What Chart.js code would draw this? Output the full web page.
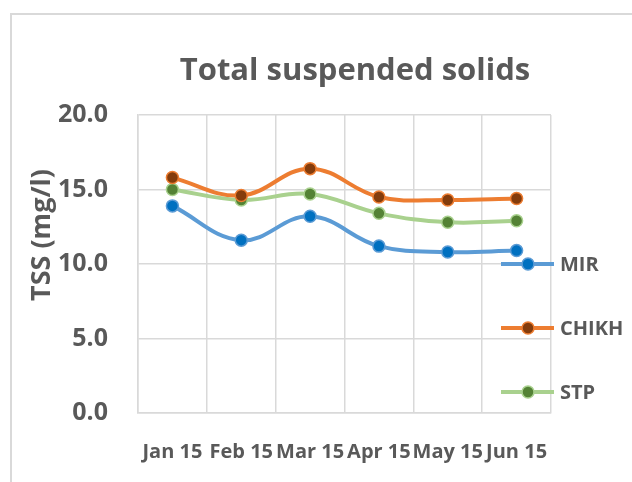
<!DOCTYPE html>
<html>
<head>
<meta charset="utf-8">
<script src="https://cdn.jsdelivr.net/npm/chart.js@4.4.1/dist/chart.umd.min.js"></script>
<style>
    html, body { margin: 0; padding: 0; background: #ffffff; }
    #wrap { width: 632px; height: 482px; }
</style>
</head>
<body>
<div id="wrap"><canvas id="chart" width="632" height="482"></canvas></div>
<script>
const months = ['Jan 15', 'Feb 15', 'Mar 15', 'Apr 15', 'May 15', 'Jun 15'];
const mirValues = [13.9, 11.6, 13.2, 11.2, 10.8, 10.9];
const chikhValues = [15.8, 14.6, 16.4, 14.5, 14.3, 14.4];
const stpValues = [15.0, 14.3, 14.7, 13.4, 12.8, 12.9];
const yTicks = [0, 5, 10, 15, 20];

const textColor = '#595959';
const gridColor = '#d9d9d9';
const fontFamily = '"Open Sans", sans-serif';

function series(label, data, lineColor, markerColor) {
    return {
        label,
        data,
        borderColor: lineColor,
        backgroundColor: markerColor,
        borderWidth: 4,
        tension: 0.4,
        pointRadius: 6,
        pointBorderWidth: 1.5,
        pointBorderColor: lineColor,
        pointBackgroundColor: markerColor,
    };
}

// frame, title, rotated axis title and the right-hand legend that overlaps the plot
const decorations = {
    id: 'decorations',
    beforeDraw(chart) {
        const ctx = chart.ctx;
        ctx.save();
        ctx.strokeStyle = gridColor;
        ctx.lineWidth = 2;
        ctx.beginPath();
        ctx.moveTo(11, 482);
        ctx.lineTo(11, 14);
        ctx.lineTo(632, 14);
        ctx.stroke();
        ctx.restore();
    },
    afterDraw(chart) {
        const ctx = chart.ctx;
        ctx.save();
        ctx.fillStyle = textColor;
        ctx.font = `bold 31px ${fontFamily}`;
        ctx.textAlign = 'center';
        ctx.textBaseline = 'alphabetic';
        ctx.fillText('Total suspended solids', 355, 80);

        ctx.translate(42, 235);
        ctx.rotate(-Math.PI / 2);
        ctx.font = `bold 27px ${fontFamily}`;
        ctx.textBaseline = 'middle';
        ctx.fillText('TSS (mg/l)', 0, 0);
        ctx.restore();

        const legendY = [264, 328, 392];
        chart.data.datasets.forEach((ds, i) => {
            const y = legendY[i];
            ctx.save();
            ctx.strokeStyle = ds.borderColor;
            ctx.lineWidth = 4;
            ctx.beginPath();
            ctx.moveTo(501, y);
            ctx.lineTo(554, y);
            ctx.stroke();
            ctx.beginPath();
            ctx.arc(528, y, 6, 0, Math.PI * 2);
            ctx.fillStyle = ds.pointBackgroundColor;
            ctx.fill();
            ctx.lineWidth = 1.5;
            ctx.strokeStyle = ds.pointBorderColor;
            ctx.stroke();
            ctx.fillStyle = textColor;
            ctx.font = `bold 20px ${fontFamily}`;
            ctx.textAlign = 'left';
            ctx.textBaseline = 'middle';
            ctx.fillText(ds.label, 560, y + 1);
            ctx.restore();
        });
    },
};

new Chart(document.getElementById('chart'), {
    type: 'line',
    data: {
        labels: months,
        datasets: [
            series('MIR', mirValues, '#5b9bd5', '#0070c0'),
            series('CHIKH', chikhValues, '#ed7d31', '#843c0c'),
            series('STP', stpValues, '#a9d18e', '#548235'),
        ],
    },
    options: {
        responsive: false,
        animation: false,
        layout: {
            padding: { top: 115, right: 81, bottom: 0, left: 0 },
        },
        plugins: {
            legend: { display: false },
            title: { display: false },
            tooltip: { enabled: false },
        },
        scales: {
            x: {
                offset: true,
                grid: { color: gridColor, lineWidth: 1.5, drawTicks: false, offset: true },
                border: { color: gridColor, width: 1.5 },
                ticks: {
                    color: textColor,
                    font: { family: fontFamily, size: 20, weight: 'bold' },
                    padding: 27,
                    maxRotation: 0,
                    autoSkip: false,
                },
                afterFit(scale) {
                    scale.height = 69;
                },
            },
            y: {
                min: 0,
                max: 20,
                afterBuildTicks(scale) {
                    scale.ticks = yTicks.map((value) => ({ value }));
                },
                grid: { color: gridColor, lineWidth: 1.5, drawTicks: false },
                border: { color: gridColor, width: 1.5 },
                ticks: {
                    color: textColor,
                    font: { family: fontFamily, size: 25, weight: 'bold' },
                    padding: 30,
                    callback: (value) => Number(value).toFixed(1),
                },
                afterFit(scale) {
                    scale.width = 138;
                },
            },
        },
    },
    plugins: [decorations],
});
</script>
</body>
</html>
